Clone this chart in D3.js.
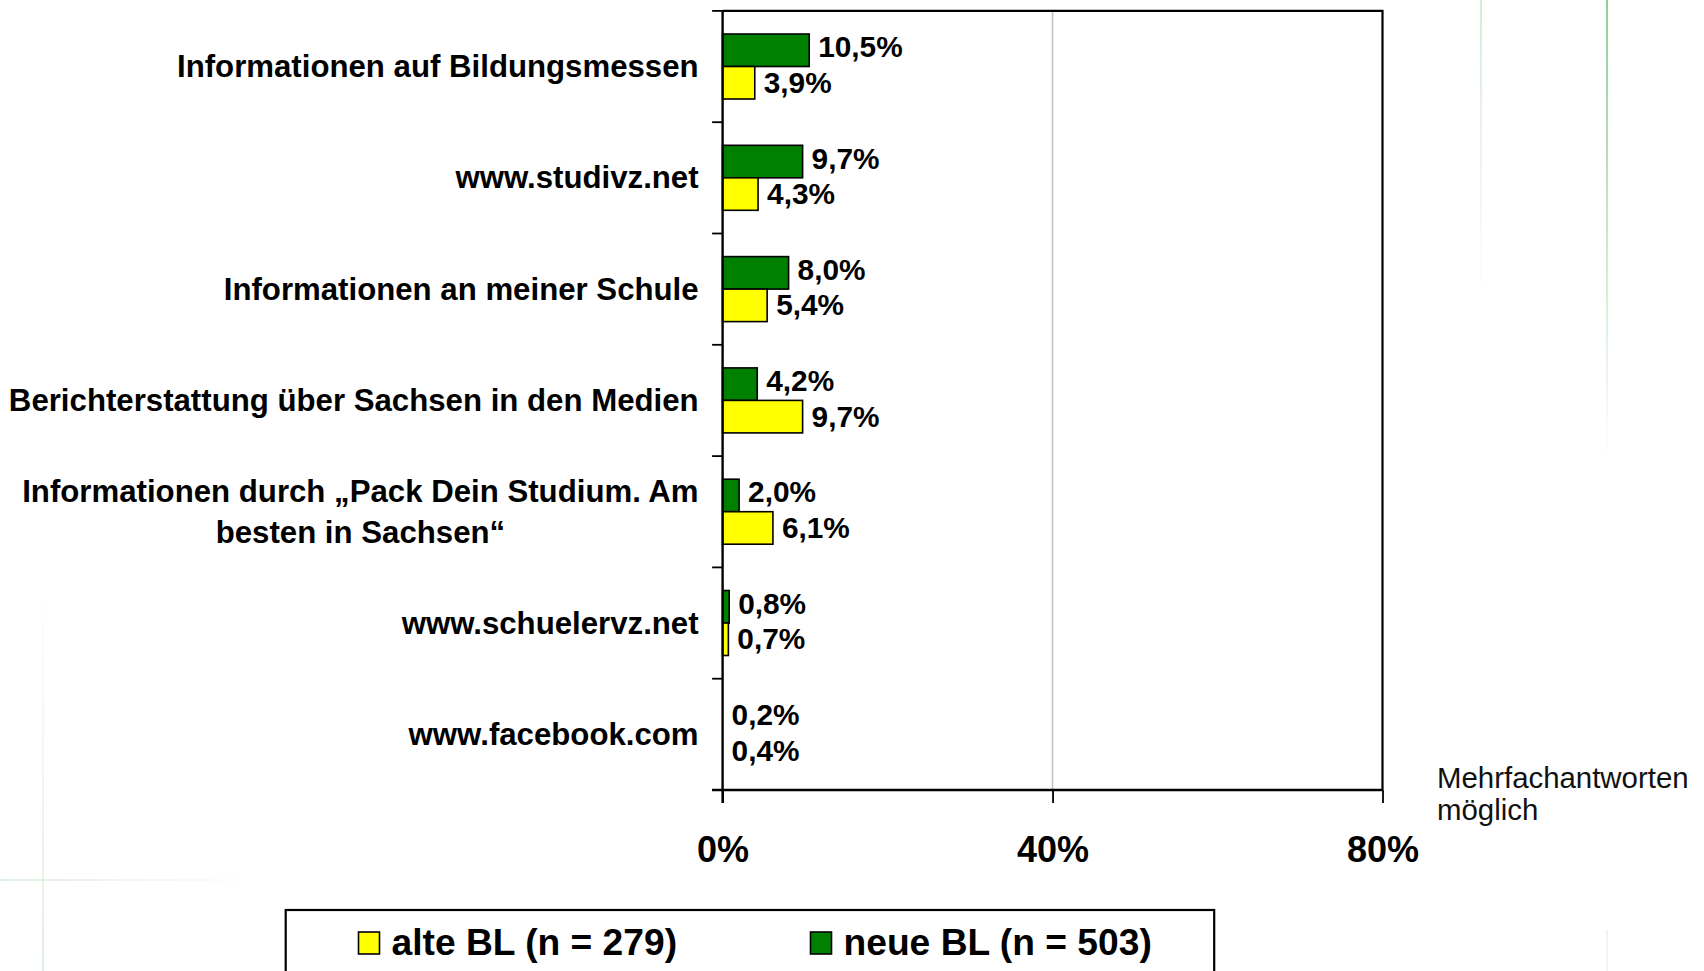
<!DOCTYPE html>
<html>
<head>
<meta charset="utf-8">
<script src="https://cdn.jsdelivr.net/npm/d3@7"></script>
<style>
  html, body { margin: 0; padding: 0; background: #ffffff; }
  svg { display: block; font-family: "Liberation Sans", Arial, sans-serif; }
</style>
</head>
<body>
<svg id="chart" width="1704" height="971"></svg>
<script>
// ---- data ----
const categories = [
  "Informationen auf Bildungsmessen",
  "www.studivz.net",
  "Informationen an meiner Schule",
  "Berichterstattung über Sachsen in den Medien",
  "Informationen durch „Pack Dein Studium. Am besten in Sachsen“",
  "www.schuelervz.net",
  "www.facebook.com"
];
const neueBL = [10.5, 9.7, 8.0, 4.2, 2.0, 0.8, 0.2];
const alteBL = [3.9, 4.3, 5.4, 9.7, 6.1, 0.7, 0.4];
const seriesNames = ["neue BL (n = 503)", "alte BL (n = 279)"];
const seriesKeys = ["neue", "alte"];
const legendOrder = ["alte", "neue"];
const xTicks = [0, 40, 80];
const note = ["Mehrfachantworten", "möglich"];

const colors = { neue: "#008000", alte: "#ffff00" };
const labelsByKey = { neue: seriesNames[0], alte: seriesNames[1] };

(function () {
const svg = d3.select("#chart");

// ---- background decoration ----
const defs = svg.append("defs");
function grad(id, c, x1, y1, x2, y2) {
  const g = defs.append("linearGradient").attr("id", id)
    .attr("x1", x1).attr("y1", y1).attr("x2", x2).attr("y2", y2);
  g.append("stop").attr("offset", "0%").attr("stop-color", c).attr("stop-opacity", 1);
  g.append("stop").attr("offset", "100%").attr("stop-color", c).attr("stop-opacity", 0);
}
grad("g1", "#d6ecd6", 0, 0, 0, 1);
grad("g2", "#8fd08f", 0, 0, 0, 1);
grad("g3", "#e0f0e0", 0, 1, 0, 0);
grad("g4", "#e0f0e0", 0, 0, 1, 0);
const deco = svg.append("g");
deco.append("rect").attr("x", 1480).attr("y", 0).attr("width", 2).attr("height", 300).attr("fill", "url(#g1)");
deco.append("rect").attr("x", 1606).attr("y", 0).attr("width", 2).attr("height", 460).attr("fill", "url(#g2)");
deco.append("rect").attr("x", 1606).attr("y", 930).attr("width", 2).attr("height", 41).attr("fill", "#eef7ee");
deco.append("rect").attr("x", 42).attr("y", 580).attr("width", 2).attr("height", 391).attr("fill", "url(#g3)");
deco.append("rect").attr("x", 0).attr("y", 879).attr("width", 260).attr("height", 2).attr("fill", "url(#g4)");

// ---- scales ----
const pL = 722.6, pR = 1382.5, pT = 10.9, pB = 790;
const x = d3.scaleLinear().domain([0, 80]).range([pL, pR]);
const y = d3.scaleBand().domain(categories).range([pT, pB]).padding(0);
const bw = y.bandwidth();
const ySub = d3.scaleBand().domain(seriesKeys).range([bw * 0.2076, bw * 0.7916]).padding(0);

const rows = categories.map((c, i) => ({ c, neue: neueBL[i], alte: alteBL[i] }));

// gridline at 40%
svg.append("g").selectAll("line").data(xTicks.filter(t => t > 0 && t < 80)).join("line")
  .attr("x1", d => x(d)).attr("x2", d => x(d)).attr("y1", pT).attr("y2", pB)
  .attr("stroke", "#c0c0c0").attr("stroke-width", 1.5);

// top and right border
svg.append("path")
  .attr("d", `M${pL},${pT}H${pR}V${pB}`)
  .attr("fill", "none").attr("stroke", "#000").attr("stroke-width", 2.2);

// ---- bars (the source chart renders no visible bar for values below 0.5 %) ----
const minShown = 0.5;
const gBars = svg.append("g");
rows.forEach(r => {
  seriesKeys.forEach(k => {
    if (r[k] < minShown) return;
    gBars.append("rect")
      .attr("x", x(0))
      .attr("y", y(r.c) + ySub(k))
      .attr("width", x(r[k]) - x(0))
      .attr("height", ySub.bandwidth())
      .attr("fill", colors[k])
      .attr("stroke", "#000").attr("stroke-width", 1.6);
  });
});

// ---- value labels ----
const fmt = v => v.toFixed(1).replace(".", ",") + "%";
const gLab = svg.append("g");
rows.forEach(r => {
  seriesKeys.forEach(k => {
    const xe = r[k] < minShown ? x(0) : x(r[k]);
    gLab.append("text")
      .attr("x", xe + 9)
      .attr("y", y(r.c) + ySub(k) + ySub.bandwidth() / 2 + (k === "neue" ? 7 : 10))
      .attr("font-size", 29.8).attr("font-weight", "bold").attr("fill", "#000")
      .text(fmt(r[k]));
  });
});

// ---- x axis ----
const xAxis = d3.axisBottom(x).tickValues(xTicks).tickFormat(d => d + "%").tickSize(13).tickPadding(33);
const gx = svg.append("g").attr("transform", `translate(0,${pB})`).call(xAxis);
gx.select(".domain").remove();
gx.selectAll(".tick line").attr("stroke", "#000").attr("stroke-width", 1.8);
gx.selectAll(".tick text").attr("font-size", 36).attr("font-weight", "bold").attr("fill", "#000")
  .attr("font-family", "'Liberation Sans', Arial, sans-serif");
svg.append("line").attr("x1", pL - 10.5).attr("x2", pR).attr("y1", pB).attr("y2", pB)
  .attr("stroke", "#000").attr("stroke-width", 2.6);

// ---- y axis ----
const yAxis = d3.axisLeft(y).tickSize(0).tickPadding(24);
const gy = svg.append("g").attr("transform", `translate(${pL},0)`).call(yAxis);
gy.select(".domain").remove();
gy.selectAll(".tick text")
  .attr("font-size", 31.2).attr("font-weight", "bold").attr("fill", "#000")
  .attr("font-family", "'Liberation Sans', Arial, sans-serif");

// wrap category labels: lines centred on each other, block right-aligned
const maxW = 720;
gy.selectAll(".tick text").each(function (d) {
  const t = d3.select(this);
  const xr = +t.attr("x");
  const words = d.split(" ");
  t.text(null).attr("dy", null);
  const lines = [];
  let line = [];
  const probe = t.append("tspan");
  words.forEach(w => {
    line.push(w);
    probe.text(line.join(" "));
    if (probe.node().getComputedTextLength() > maxW && line.length > 1) {
      line.pop();
      lines.push(line.join(" "));
      line = [w];
    }
  });
  lines.push(line.join(" "));
  probe.remove();
  const widths = lines.map(l => {
    const s = t.append("tspan").text(l);
    const w = s.node().getComputedTextLength();
    s.remove();
    return w;
  });
  const mw = d3.max(widths);
  const lh = 40.4;
  const y0 = -(lines.length - 1) * lh / 2 + 10.6;
  if (lines.length === 1) {
    t.attr("text-anchor", "end");
    t.append("tspan").attr("x", xr).attr("y", y0).text(lines[0]);
  } else {
    t.attr("text-anchor", "middle");
    lines.forEach((l, i) => {
      t.append("tspan").attr("x", xr - mw / 2).attr("y", y0 + i * lh).text(l);
    });
  }
});

// category boundary ticks
const bounds = categories.map(c => y(c)).concat([y.range()[1]]);
svg.append("g").selectAll("line").data(bounds).join("line")
  .attr("x1", pL - 10.5).attr("x2", pL).attr("y1", d => d).attr("y2", d => d)
  .attr("stroke", "#000").attr("stroke-width", 1.8);
svg.append("line").attr("x1", pL).attr("x2", pL).attr("y1", pT - 1).attr("y2", pB + 13)
  .attr("stroke", "#000").attr("stroke-width", 2.4);

// ---- note ----
const gn = svg.append("text").attr("x", 1437).attr("y", 788)
  .attr("font-size", 29.4).attr("fill", "#111");
note.forEach((l, i) => gn.append("tspan").attr("x", 1437).attr("y", 788 + i * 32).text(l));

// ---- legend ----
const lg = svg.append("g");
lg.append("rect").attr("x", 285.7).attr("y", 910).attr("width", 928.5).attr("height", 90)
  .attr("fill", "#fff").attr("stroke", "#000").attr("stroke-width", 2.2);
const legX = { alte: 358.5, neue: 810.5 };
legendOrder.forEach(k => {
  lg.append("rect").attr("x", legX[k]).attr("y", 932).attr("width", 21).attr("height", 22)
    .attr("fill", colors[k]).attr("stroke", "#000").attr("stroke-width", 1.6);
  lg.append("text").attr("x", legX[k] + 33).attr("y", 955)
    .attr("font-size", 37.2).attr("font-weight", "bold").attr("fill", "#000")
    .text(labelsByKey[k]);
});
})();
</script>
</body>
</html>
